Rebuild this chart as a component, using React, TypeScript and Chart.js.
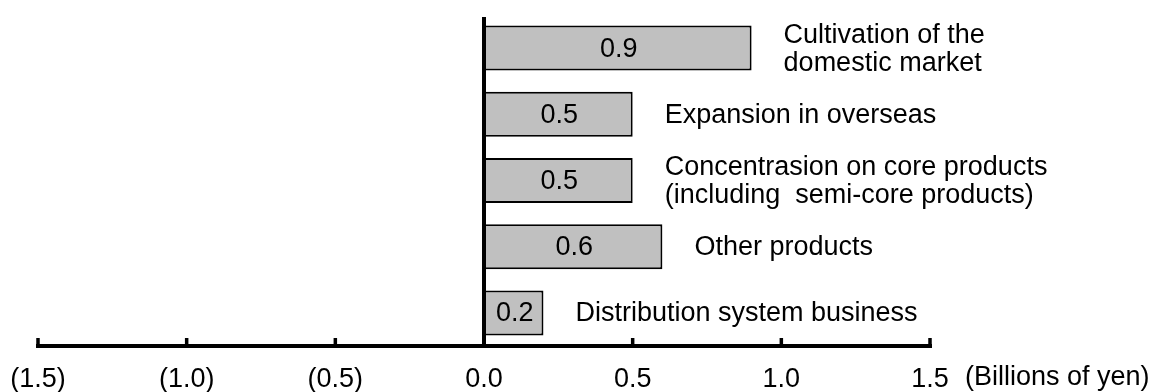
import React, { useEffect, useRef } from "react";
import { Chart, registerables } from "chart.js";

Chart.register(...registerables);

const categories: string[][] = [
  ["Cultivation of the", "domestic market"],
  ["Expansion in overseas"],
  ["Concentrasion on core products", "(including  semi-core products)"],
  ["Other products"],
  ["Distribution system business"],
];
const values: number[] = [0.9, 0.5, 0.5, 0.6, 0.2];
const axisMin = -1.5;
const axisMax = 1.5;
const axisStep = 0.5;
const unitLabel = "(Billions of yen)";

const FONT = "'Liberation Sans', Arial, sans-serif";
const FONT_SIZE = 27;

const formatTick = (v: number) => {
  const s = Math.abs(v).toFixed(1);
  return v < -1e-9 ? `(${s})` : s;
};

const overlay = {
  id: "overlay",
  afterDatasetsDraw(chart: any) {
    const { ctx, chartArea } = chart;
    const xs = chart.scales.x;
    const meta = chart.getDatasetMeta(0);
    ctx.save();
    ctx.fillStyle = "#000";
    ctx.strokeStyle = "#000";
    ctx.font = `${FONT_SIZE}px ${FONT}`;
    ctx.textBaseline = "middle";

    // value labels inside bars + category labels
    meta.data.forEach((bar: any, i: number) => {
      const x0 = xs.getPixelForValue(0);
      const x1 = bar.x;
      ctx.textAlign = "center";
      ctx.fillText(values[i].toFixed(1), (x0 + x1) / 2 + 1, bar.y + 1);
      ctx.textAlign = "left";
      const lines = categories[i];
      const lh = 28;
      lines.forEach((ln, k) => {
        const y = bar.y + (k - (lines.length - 1) / 2) * lh + 1;
        ctx.fillText(ln, x1 + 32, y);
      });
    });

    // zero line
    const zx = xs.getPixelForValue(0);
    ctx.lineWidth = 4;
    ctx.beginPath();
    ctx.moveTo(zx, chartArea.top + 2);
    ctx.lineTo(zx, chartArea.bottom);
    ctx.stroke();

    // x axis line with upward ticks
    const ay = chartArea.bottom;
    ctx.lineWidth = 4;
    ctx.beginPath();
    ctx.moveTo(xs.getPixelForValue(axisMin) - 2, ay);
    ctx.lineTo(xs.getPixelForValue(axisMax) + 2, ay);
    ctx.stroke();
    ctx.lineWidth = 3.5;
    const ticks: number[] = xs.ticks.map((t: any) => t.value);
    ticks.forEach((v) => {
      const px = xs.getPixelForValue(v);
      ctx.beginPath();
      ctx.moveTo(px, ay);
      ctx.lineTo(px, ay - 8);
      ctx.stroke();
      ctx.textAlign = "center";
      ctx.fillText(formatTick(v), px, ay + 34);
    });

    // unit label
    ctx.textAlign = "left";
    ctx.fillText(unitLabel, xs.getPixelForValue(axisMax) + 35, ay + 32);
    ctx.restore();
  },
};

export default function App() {
  const ref = useRef<HTMLCanvasElement>(null);
  useEffect(() => {
    if (!ref.current) return;
    const chart = new Chart(ref.current, {
      type: "bar",
      data: {
        labels: categories.map((c) => c.join(" ")),
        datasets: [
          {
            data: values,
            backgroundColor: "#c0c0c0",
            borderColor: "#000",
            borderWidth: 2,
            borderSkipped: false,
            barPercentage: 0.68,
            categoryPercentage: 1,
          },
        ],
      },
      options: {
        indexAxis: "y",
        responsive: false,
        animation: false,
        layout: { padding: { left: 38, right: 225, top: 15, bottom: 46 } },
        plugins: { legend: { display: false }, tooltip: { enabled: false } },
        scales: {
          y: { display: false },
          x: {
            display: false,
            min: axisMin,
            max: axisMax,
            ticks: { stepSize: axisStep },
          },
        },
      },
      plugins: [overlay],
    });
    return () => chart.destroy();
  }, []);
  return (
    <canvas
      ref={ref}
      width={1155}
      height={392}
      style={{ position: "absolute", left: 0, top: 0, width: 1155, height: 392, background: "#fff" }}
    />
  );
}
